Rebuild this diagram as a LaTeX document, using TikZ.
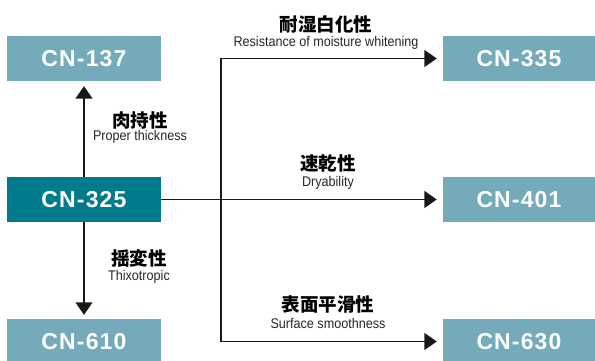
\documentclass[tikz,border=0pt]{standalone}
\usepackage{fontspec}
\setmainfont{Liberation Sans}
\newfontfamily\cajafont[LetterSpace=5]{Liberation Sans}
\newfontfamily\subfont[FakeStretch=0.9]{Liberation Sans}
\newfontfamily\jpfont{Noto Sans CJK JP}
\usetikzlibrary{arrows.meta}
\definecolor{tealclaro}{RGB}{116,170,185}
\definecolor{tealoscuro}{RGB}{0,122,140}
\begin{document}
\begin{tikzpicture}[x=1pt,y=1pt]
\tikzset{
    caja/.style={fill=tealclaro, minimum width=154pt, minimum height=45pt, inner sep=0pt,
                 text=white, font=\cajafont\bfseries\fontsize{23}{23}\selectfont},
    cajaosc/.style={caja, fill=tealoscuro},
    etiqueta/.style={text centered, inner sep=0pt, font=\jpfont\bfseries\fontsize{18.5}{18.5}\selectfont},
    subetiqueta/.style={text centered, inner sep=0pt, text=black!85, font=\subfont\fontsize{14}{14}\selectfont},
    flecha/.style={line width=1.6pt, black!90, -{Triangle[length=12.5pt,width=17pt]}}
}
\useasboundingbox (0,0) rectangle (595,360);
% columna izquierda
\node[caja] (c137) at (84,301.5) {CN-137};
\node[cajaosc] (c325) at (84,160.5) {CN-325};
\node[caja] (c610) at (84,18.5) {CN-610};
% columna derecha
\node[caja, minimum width=152pt] (c335) at (519,301.5) {CN-335};
\node[caja, minimum width=152pt] (c401) at (519,160.5) {CN-401};
\node[caja, minimum width=152pt] (c630) at (519,18.5) {CN-630};
% flechas
\coordinate (rama) at (221,160.5);
\draw[flecha, shorten >=5pt] (c325.north) -- (c137.south);
\draw[flecha, shorten >=4pt] (c325.south) -- (c610.north);
\draw[flecha, shorten >=6pt] (c325.east) -- (c401.west);
\draw[flecha, shorten >=6pt] (rama) |- (c335.west);
\draw[flecha, shorten >=6pt] (rama) |- (c630.west);
% etiquetas
\node[etiqueta] (e1) at (140,240) {肉持性};
\node[subetiqueta] (s1) at (140,223) {Proper thickness};
\node[etiqueta] (e2) at (139,102) {揺変性};
\node[subetiqueta] (s2) at (139,83) {Thixotropic};
\node[etiqueta] (e3) at (326,336) {耐湿白化性};
\node[subetiqueta] (s3) at (326,317) {Resistance of moisture whitening};
\node[etiqueta] (e4) at (328,197) {速乾性};
\node[subetiqueta] (s4) at (328,177) {Dryability};
\node[etiqueta] (e5) at (328,56) {表面平滑性};
\node[subetiqueta] (s5) at (328,37) {Surface smoothness};
\end{tikzpicture}
\end{document}
